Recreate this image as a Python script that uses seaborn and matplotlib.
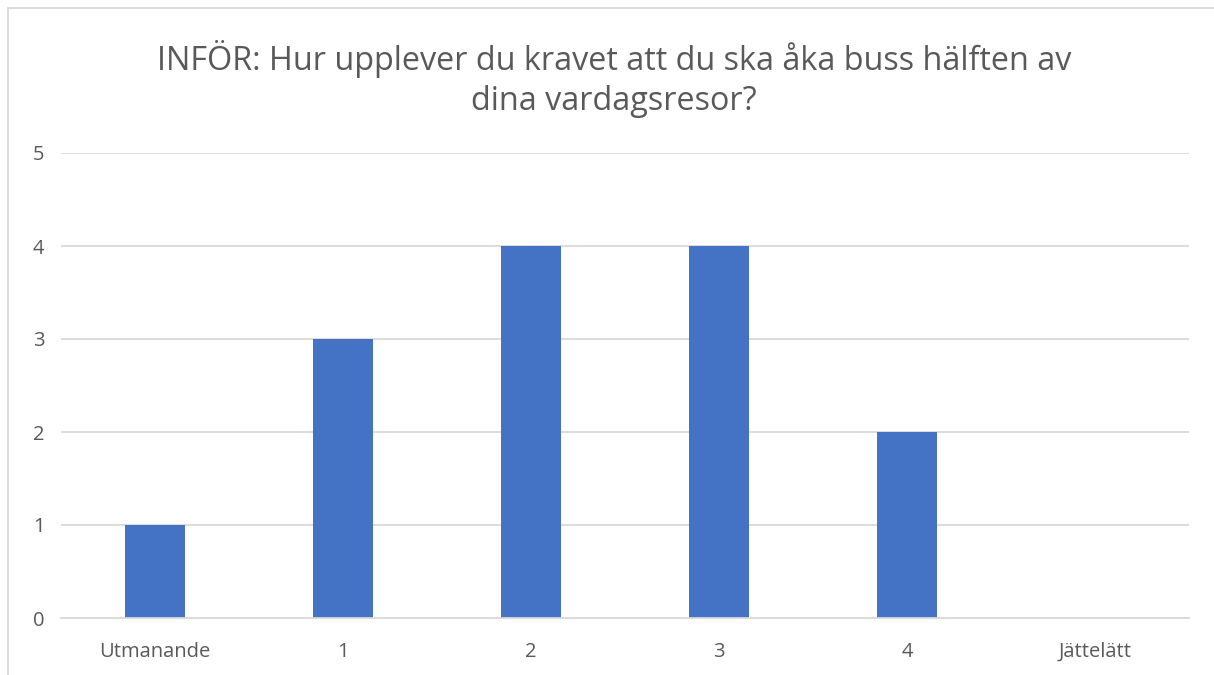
import matplotlib
matplotlib.use("Agg")
import matplotlib.pyplot as plt
import seaborn as sns
import pandas as pd
from matplotlib.patches import Rectangle

categories = ["Utmanande", "1", "2", "3", "4", "Jättelätt"]
values = [1, 3, 4, 4, 2, 0]
title = "INFÖR: Hur upplever du kravet att du ska åka buss hälften av\ndina vardagsresor?"

sns.set_theme(style="white")
plt.rcParams['font.family'] = ['Open Sans', 'DejaVu Sans']

df = pd.DataFrame({"cat": categories, "val": values})

fig = plt.figure(figsize=(12.14, 6.75), dpi=100)
ax = fig.add_axes([61/1214, 1-618/675, (1189-61)/1214, (618-153)/675])

sns.barplot(data=df, x="cat", y="val", order=categories, color="#4472C4",
            saturation=1, width=0.32, linewidth=0, ax=ax)

ax.set_ylim(0, 5)
ax.set_yticks(range(0, 6))
ax.yaxis.grid(True, color="#d9d9d9", linewidth=1.3)
ax.set_axisbelow(True)
for s in ["top", "right", "left"]:
    ax.spines[s].set_visible(False)
ax.spines["bottom"].set_color("#d9d9d9")
ax.spines["bottom"].set_linewidth(1.3)
ax.set_xlabel("")
ax.set_ylabel("")
ax.tick_params(axis="both", length=0, labelsize=14.5, labelcolor="#595959")
ax.tick_params(axis="y", pad=12)
ax.tick_params(axis="x", pad=17)

fig.text(0.506, 1-79/675, title, ha="center", va="center", fontsize=23.3,
         color="#595959", linespacing=1.3)

fig.patches.append(Rectangle((8/1214, -0.05), 1.1, 1-8/675+0.05, transform=fig.transFigure,
                             fill=False, edgecolor="#d9d9d9", linewidth=1.3))

fig.savefig("out.png", dpi=100)
